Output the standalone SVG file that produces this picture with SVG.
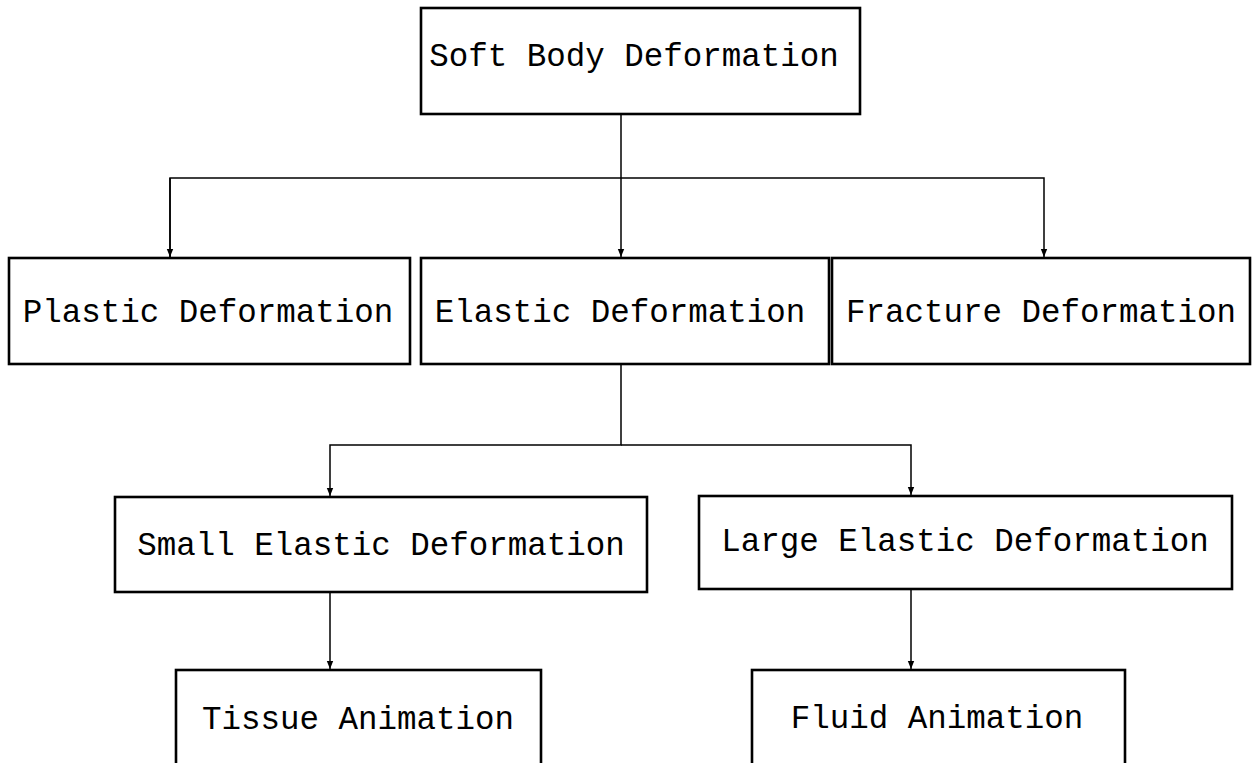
<svg xmlns="http://www.w3.org/2000/svg" width="1258" height="763" viewBox="0 0 1258 763">
<style>
.box{fill:#fff;stroke:#000;stroke-width:2.6}
.lbl{font-family:"Liberation Mono","DejaVu Sans Mono",monospace;font-size:32.5px;fill:#000;text-anchor:middle}
.con{fill:none;stroke:#000;stroke-width:1.5}
</style>
<defs>
<marker id="ah" viewBox="0 0 10 10" refX="10" refY="5" markerWidth="8" markerHeight="8" markerUnits="userSpaceOnUse" orient="auto">
<path d="M0,1 L10,5 L0,9 z" fill="#000"/>
</marker>
</defs>
<rect width="1258" height="763" fill="#fff"/>
<g id="connectors">
<path class="con" d="M621,114 V257" marker-end="url(#ah)"/>
<path class="con" d="M170,257 V178 H1044 V257" marker-end="url(#ah)"/>
<path class="con" d="M170,178 V257" marker-end="url(#ah)"/>
<path class="con" d="M621,364 V445 H330 V496" marker-end="url(#ah)"/>
<path class="con" d="M621,445 H911 V495" marker-end="url(#ah)"/>
<path class="con" d="M330,592 V669" marker-end="url(#ah)"/>
<path class="con" d="M911,589 V669" marker-end="url(#ah)"/>
</g>
<g id="soft-body">
<rect class="box" x="421" y="8" width="439" height="106"/>
<text class="lbl" x="634" y="66">Soft Body Deformation</text>
</g>
<g id="plastic">
<rect class="box" x="9" y="258" width="401" height="106"/>
<text class="lbl" x="208" y="322">Plastic Deformation</text>
</g>
<g id="elastic">
<rect class="box" x="421" y="258" width="408" height="106"/>
<text class="lbl" x="620" y="322">Elastic Deformation</text>
</g>
<g id="fracture">
<rect class="box" x="832" y="258" width="418" height="106"/>
<text class="lbl" x="1041" y="322">Fracture Deformation</text>
</g>
<g id="small-elastic">
<rect class="box" x="115" y="497" width="532" height="95"/>
<text class="lbl" x="381" y="555">Small Elastic Deformation</text>
</g>
<g id="large-elastic">
<rect class="box" x="699" y="496" width="533" height="93"/>
<text class="lbl" x="965" y="551">Large Elastic Deformation</text>
</g>
<g id="tissue">
<rect class="box" x="176" y="670" width="365" height="110"/>
<text class="lbl" x="358" y="729">Tissue Animation</text>
</g>
<g id="fluid">
<rect class="box" x="752" y="670" width="373" height="110"/>
<text class="lbl" x="937" y="728">Fluid Animation</text>
</g>
</svg>
